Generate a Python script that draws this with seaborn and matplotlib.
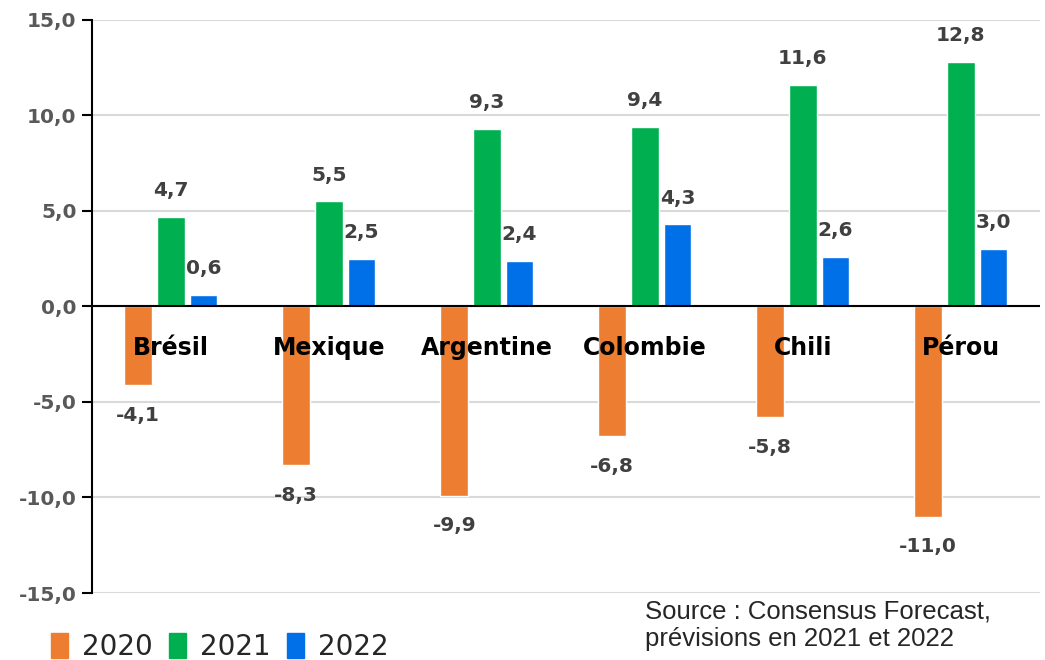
import pandas as pd
import numpy as np
import matplotlib.pyplot as plt
import seaborn as sns

# Données (croissance du PIB, %)
pays = ['Brésil', 'Mexique', 'Argentine', 'Colombie', 'Chili', 'Pérou']
annees = ['2020', '2021', '2022']
v2020 = [-4.1, -8.3, -9.9, -6.8, -5.8, -11.0]
v2021 = [4.7, 5.5, 9.3, 9.4, 11.6, 12.8]
v2022 = [0.6, 2.5, 2.4, 4.3, 2.6, 3.0]
couleurs = ['#ED7D31', '#00B050', '#0070E8']

df = pd.DataFrame({
    'pays': pays * 3,
    'annee': ['2020'] * 6 + ['2021'] * 6 + ['2022'] * 6,
    'valeur': v2020 + v2021 + v2022,
})

sns.set_style('white')
plt.rcParams['font.family'] = ['DejaVu Sans']

fig = plt.figure(figsize=(10.45, 6.6), dpi=100)
ax = fig.add_axes([0.088, 0.1015, 0.907, 0.8685])

sns.barplot(data=df, x='pays', y='valeur', hue='annee', hue_order=annees,
            palette=couleurs, width=0.62, gap=0.15, legend=False, ax=ax,
            errorbar=None, saturation=1)

# étiquettes de valeurs (un peu plus d'écart sous les barres négatives)
for k, cont in enumerate(ax.containers):
    vals = [b.get_height() for b in cont]
    ax.bar_label(cont, labels=[f"{v:.1f}".replace('.', ',') for v in vals],
                 padding=15 if k == 0 else 12, fontsize=14.5,
                 fontweight='bold', color='#404040')

# axes
ax.set_ylim(-15, 15)
ax.set_xlim(-0.5, 5.5)
ax.set_yticks(np.arange(-15, 16, 5))
ax.set_yticklabels([f"{t:.1f}".replace('.', ',') for t in np.arange(-15, 16, 5)],
                   fontsize=14.5, fontweight='bold', color='#595959')
ax.tick_params(axis='y', direction='out', length=7, width=1.5, color='black',
               left=True, pad=4)
ax.set_xticks([])
ax.set_xlabel('')
ax.set_ylabel('')
ax.yaxis.grid(True, color='#D9D9D9', linewidth=1.5)
ax.set_axisbelow(True)
for s in ['top', 'right', 'bottom']:
    ax.spines[s].set_visible(False)
ax.spines['left'].set_color('black')
ax.spines['left'].set_linewidth(1.5)
ax.axhline(0, color='black', linewidth=1.5, zorder=3)

# noms des pays
for i, p in enumerate(pays):
    ax.text(i, -2.2, p, ha='center', va='center', fontsize=17,
            fontweight='bold', color='black', zorder=4)

# légende
handles = [plt.Rectangle((0, 0), 1, 1, color=c) for c in couleurs]
fig.legend(handles, annees, loc='lower left', bbox_to_anchor=(0.025, -0.04),
           ncol=3, frameon=False, handlelength=0.6, handleheight=1.0,
           handletextpad=0.5, columnspacing=0.6,
           prop={'family': ['Liberation Sans Narrow', 'DejaVu Sans'], 'size': 20})

fig.text(0.617, 0.053, 'Source : Consensus Forecast,\nprévisions en 2021 et 2022',
         ha='left', va='center', fontsize=18.5, family=['Liberation Sans', 'DejaVu Sans'],
         linespacing=1.2)

fig.savefig('out.png', dpi=100)
